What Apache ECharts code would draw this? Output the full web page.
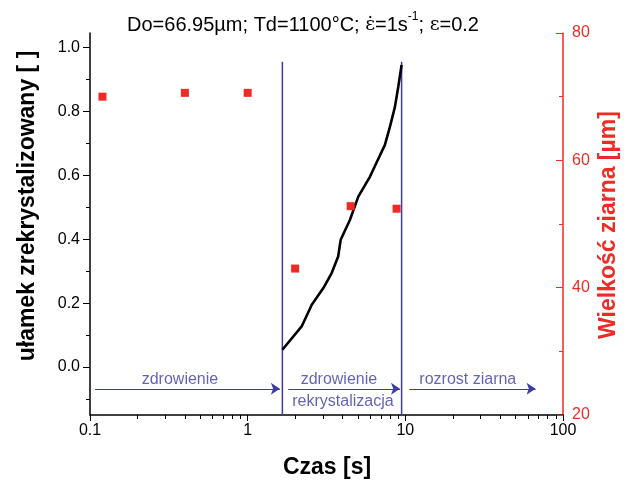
<!DOCTYPE html>
<html>
<head>
<meta charset="utf-8">
<script src="https://cdn.jsdelivr.net/npm/echarts@6/dist/echarts.min.js"></script>
<style>html,body{margin:0;padding:0;background:#fff}#c{width:629px;height:480px}</style>
</head>
<body>
<div id="c"></div>
<script>
// recrystallized fraction curve
var recTimes = [1.66, 2.20, 2.55, 3.02, 3.41, 3.75, 3.89, 4.45, 5.03, 5.97, 7.42, 7.99, 8.59, 9.02, 9.47];
var recFraction = [0.054, 0.127, 0.195, 0.247, 0.294, 0.346, 0.398, 0.460, 0.533, 0.596, 0.695, 0.752, 0.814, 0.877, 0.945];
// grain size measurements
var grainTimes = [0.12, 0.4, 1.0, 2.0, 4.5, 8.8];
var grainSize = [70.0, 70.6, 70.6, 43.0, 52.8, 52.4];
// phase boundaries (s)
var phaseBoundaries = [1.66, 9.47];
var boundaryTop = 0.955;
// tick labels
var leftTicks = [0.0, 0.2, 0.4, 0.6, 0.8, 1.0];
var leftMinorTicks = [-0.1, 0.1, 0.3, 0.5, 0.7, 0.9];
var rightMinorTicks = [30, 50, 70];
var xDecades = [0.1, 1, 10];
var phaseLabels = ['zdrowienie', 'zdrowienie', 'rekrystalizacja', 'rozrost ziarna'];

var FONT = "'Liberation Sans', Arial, sans-serif";
var SERIF = "'DejaVu Serif', 'Liberation Serif', serif";
var BLUE = '#3c3ca4';
var RED = '#ee2b24';

var xMinor = [];
xDecades.forEach(function (d) { for (var k = 2; k <= 9; k++) xMinor.push(Math.log10(k * d)); });

var chart = echarts.init(document.getElementById('c'), null, {renderer: 'canvas'});

function zip(a, b) { return a.map(function (v, i) { return [v, b[i]]; }); }

var boundarySeries = phaseBoundaries.map(function (t) {
  return {
    type: 'line', xAxisIndex: 0, yAxisIndex: 0, symbol: 'none', silent: true,
    lineStyle: {color: BLUE, width: 1.5},
    data: [[t, -0.15], [t, boundaryTop]],
    z: 2
  };
});

var option = {
  animation: false,
  backgroundColor: '#fff',
  grid: {left: 90, right: 66, top: 33, bottom: 65},
  xAxis: [
    {
      type: 'log', logBase: 10, min: 0.1, max: 100,
      axisLine: {show: true, onZero: false, lineStyle: {color: '#000', width: 1.5}},
      axisTick: {show: true, length: 6, lineStyle: {color: '#000', width: 1}},
      axisLabel: {color: '#000', fontSize: 16, fontFamily: FONT, margin: 8,
        formatter: function (v) { return String(v); }},
      splitLine: {show: false}, minorTick: {show: false}
    },
    {
      type: 'value', min: -1, max: 2, position: 'bottom',
      axisLine: {show: false, onZero: false},
      axisTick: {show: true, length: 4, customValues: xMinor, lineStyle: {color: '#000', width: 1}},
      axisLabel: {show: false}, splitLine: {show: false}
    }
  ],
  yAxis: [
    {
      type: 'value', min: -0.15, max: 1.045, position: 'left',
      axisLine: {show: true, onZero: false, lineStyle: {color: '#000', width: 1.5}},
      axisTick: {show: true, length: 7, customValues: leftTicks, lineStyle: {color: '#000', width: 1}},
      axisLabel: {customValues: leftTicks, color: '#000', fontSize: 16, fontFamily: FONT, margin: 10,
        formatter: function (v) { return Number(v).toFixed(1); }},
      splitLine: {show: false}
    },
    {
      type: 'value', min: -0.15, max: 1.045, position: 'left',
      axisLine: {show: false, onZero: false},
      axisTick: {show: true, length: 4, customValues: leftMinorTicks, lineStyle: {color: '#000', width: 1}},
      axisLabel: {show: false}, splitLine: {show: false}
    },
    {
      type: 'value', min: 20, max: 80, interval: 20, position: 'right',
      axisLine: {show: true, onZero: false, lineStyle: {color: RED, width: 1.5}},
      axisTick: {show: true, inside: true, length: 7, lineStyle: {color: RED, width: 1}},
      axisLabel: {color: RED, fontSize: 16, fontFamily: FONT, margin: 9},
      splitLine: {show: false}
    },
    {
      type: 'value', min: 20, max: 80, position: 'right',
      axisLine: {show: false, onZero: false},
      axisTick: {show: true, inside: true, length: 4, customValues: rightMinorTicks, lineStyle: {color: RED, width: 1}},
      axisLabel: {show: false}, splitLine: {show: false}
    }
  ],
  graphic: [
    {
      type: 'text', x: 303, y: 23,
      style: {
        text: '{a|Do=66.95µm; Td=1100°C; }{e|ε̇}{a|=1s}{s|-1}{a|; }{e|ε}{a|=0.2}',
        align: 'center', verticalAlign: 'middle',
        rich: {
          a: {fontSize: 20, fontFamily: FONT, fill: '#000', lineHeight: 24, verticalAlign: 'bottom'},
          e: {fontSize: 19, fontFamily: SERIF, fill: '#000', lineHeight: 24, verticalAlign: 'bottom'},
          s: {fontSize: 12, fontFamily: FONT, fill: '#000', lineHeight: 24, verticalAlign: 'top'}
        }
      }
    },
    {
      type: 'text', x: 28, y: 206, rotation: Math.PI / 2,
      style: {text: 'ułamek zrekrystalizowany [ ]', align: 'center', verticalAlign: 'middle',
        fontSize: 23, fontWeight: 'bold', fontFamily: FONT, fill: '#000'}
    },
    {
      type: 'text', x: 609, y: 225, rotation: Math.PI / 2,
      style: {text: 'Wielkość ziarna [µm]', align: 'center', verticalAlign: 'middle',
        fontSize: 23, fontWeight: 'bold', fontFamily: FONT, fill: RED}
    },
    {
      type: 'text', x: 327, y: 468,
      style: {text: 'Czas [s]', align: 'center', verticalAlign: 'middle',
        fontSize: 23, fontWeight: 'bold', fontFamily: FONT, fill: '#000'}
    }
  ],
  series: boundarySeries.concat([
    {
      name: 'fraction', type: 'line', xAxisIndex: 0, yAxisIndex: 0,
      symbol: 'none', smooth: false,
      lineStyle: {color: '#000', width: 2.6},
      data: zip(recTimes, recFraction), z: 3
    },
    {
      name: 'grain', type: 'scatter', xAxisIndex: 0, yAxisIndex: 2,
      symbol: 'rect', symbolSize: 8,
      itemStyle: {color: RED, opacity: 1},
      data: zip(grainTimes, grainSize), z: 4
    },
    {
      name: 'phases', type: 'scatter', xAxisIndex: 0, yAxisIndex: 0,
      symbolSize: 0, silent: true,
      label: {show: true, position: 'inside', color: BLUE, fontSize: 16, fontFamily: FONT,
        formatter: function (p) { return p.value[2]; }},
      data: [
        [0.372, -0.04, phaseLabels[0]],
        [3.79, -0.04, phaseLabels[1]],
        [4.02, -0.1075, phaseLabels[2]],
        [24.9, -0.04, phaseLabels[3]]
      ],
      markLine: {
        silent: true, symbol: ['none', 'arrow'], symbolSize: 9,
        lineStyle: {color: BLUE, width: 1, type: 'solid'},
        label: {show: false},
        data: [
          [{coord: [0.1076, -0.068]}, {coord: [1.60, -0.068]}],
          [{coord: [1.81, -0.068]}, {coord: [9.25, -0.068]}],
          [{coord: [10.59, -0.068]}, {coord: [67.0, -0.068]}]
        ]
      }
    }
  ])
};
chart.setOption(option);
</script>
</body>
</html>
